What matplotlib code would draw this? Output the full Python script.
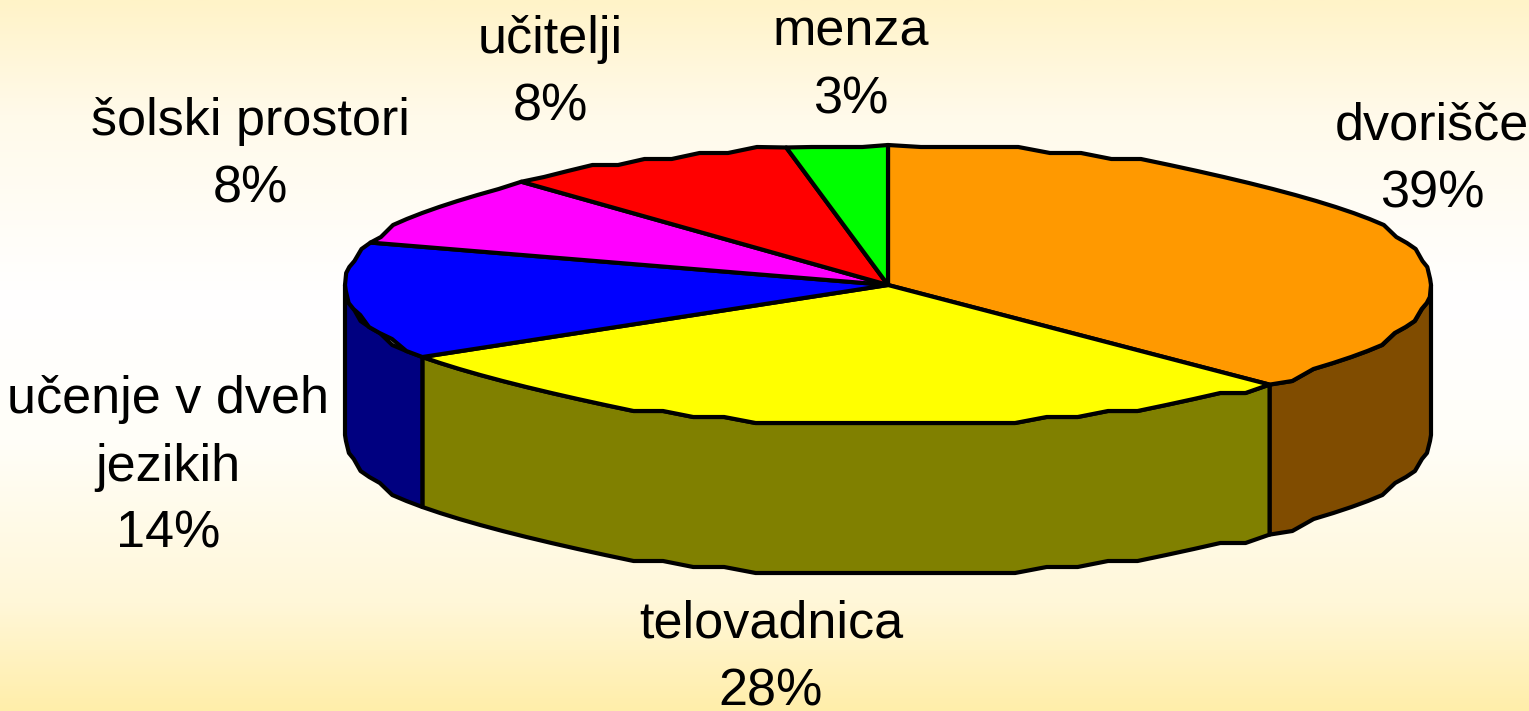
import numpy as np
import matplotlib
matplotlib.use('Agg')
import matplotlib.pyplot as plt
from matplotlib.colors import LinearSegmentedColormap

# chart data
labels = ['dvorišče', 'telovadnica', 'učenje v dveh\njezikih', 'šolski prostori', 'učitelji', 'menza']
percents = [39, 28, 14, 8, 8, 3]
# slice sizes as drawn in the picture, they differ a bit from the printed percents
slice_sizes = [37.6, 28.8, 13.5, 8.3, 8.8, 3.0]
top_colors = ['#ff9900', '#ffff00', '#0000ff', '#ff00ff', '#ff0000', '#00ff00']
side_colors = ['#804c00', '#808000', '#000080', '#800080', '#800000', '#008000']

# label centres in pixels
label_x = [1432, 771, 168, 250, 550, 851]
label_y = [160, 658, 467, 155, 73, 66]

cx, cy = 888, 285
rx, ry = 543, 140
depth = 150
grid = 6  # the original rim is a coarse low-res outline
step = np.radians(3.5)

plt.rcParams['font.family'] = ['Liberation Sans', 'DejaVu Sans']

fig = plt.figure(figsize=(15.29, 7.11), dpi=100)
ax = fig.add_axes([0, 0, 1, 1])
ax.set_xlim(0, 1529)
ax.set_ylim(711, 0)
ax.axis('off')

# background gradient, pale yellow at the edges and white in the middle
cmap = LinearSegmentedColormap.from_list('bg', [(0, '#fff3c8'), (0.16, '#fffaea'), (0.42, '#ffffff'),
                                                (0.62, '#fffef8'), (0.85, '#fff7d8'), (1, '#ffeeaa')])
grad = np.linspace(0, 1, 256).reshape(-1, 1)
ax.imshow(grad, cmap=cmap, extent=[0, 1529, 711, 0], aspect='auto', zorder=0)


def edge_xy(angles):
    # angles clockwise from the top of the pie, in radians
    x = cx + rx * np.sin(angles)
    y = cy - ry * np.cos(angles)
    # snap the inner rim points to the coarse grid, keep the slice corners exact
    y[1:-1] = np.round((y[1:-1] - cy) / grid) * grid + cy
    return x, y


def arc_angles(a0, a1):
    n = max(int((a1 - a0) / step), 1) + 1
    return np.linspace(a0, a1, n + 1)


sizes = np.array(slice_sizes)
fractions = sizes / sizes.sum()
ends = np.cumsum(fractions) * 2 * np.pi
starts = ends - fractions * 2 * np.pi

# side walls, only where the rim faces the viewer
for s, e, c in zip(starts, ends, side_colors):
    a0 = max(s, np.pi / 2)
    a1 = min(e, 3 * np.pi / 2)
    if a1 <= a0:
        continue
    x, y = edge_xy(arc_angles(a0, a1))
    xs = np.concatenate([x, x[::-1]])
    ys = np.concatenate([y, y[::-1] + depth])
    ax.fill(xs, ys, facecolor=c, edgecolor='black', linewidth=3, joinstyle='round', zorder=2)

# top slices
for s, e, c in zip(starts, ends, top_colors):
    x, y = edge_xy(arc_angles(s, e))
    xs = np.concatenate([[cx], x])
    ys = np.concatenate([[cy], y])
    ax.fill(xs, ys, facecolor=c, edgecolor='black', linewidth=3, joinstyle='round', zorder=3)

# labels
for name, v, lx, ly in zip(labels, percents, label_x, label_y):
    ax.text(lx, ly, f'{name}\n{v}%', ha='center', va='center', fontsize=37.5,
            linespacing=1.48, color='black', zorder=4)

fig.savefig('out.png', dpi=100)
